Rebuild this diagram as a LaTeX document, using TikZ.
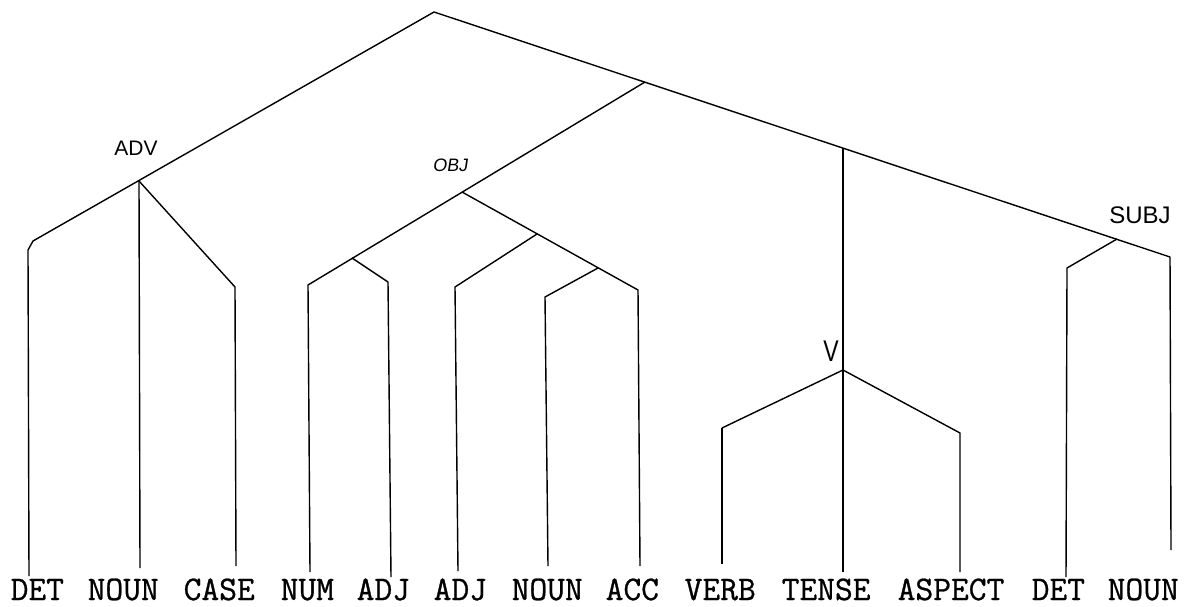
\documentclass[tikz,border=0pt]{standalone}
\usepackage{fontspec}
\newfontfamily\typewriter[FakeBold=0.8]{Latin Modern Mono}
\newfontfamily\hand{Liberation Sans}
\begin{document}
\begin{tikzpicture}[x=1pt,y=-1pt,line width=1.4pt,line join=round,
  word/.style={anchor=base west,inner sep=0pt,text depth=0pt,font=\typewriter\fontsize{34.5}{34.5}\selectfont},
  cat/.style={inner sep=0pt}]
\useasboundingbox (0,0) rectangle (1190,607);
% internal junctions
\coordinate (root) at (434,12);
\coordinate (adv) at (139,181);
\coordinate (vp) at (645,82);
\coordinate (obj) at (462,192);
\coordinate (numadj) at (352,258);
\coordinate (adjn) at (537,234);
\coordinate (nacc) at (598,268);
\coordinate (tns) at (843,148);
\coordinate (v) at (843,370);
\coordinate (subj) at (1117,239);
% leaf bends
\coordinate (b1a) at (33,241); \coordinate (b1) at (28,250);
\coordinate (b3) at (235,287);
\coordinate (b4) at (308,285);
\coordinate (b5) at (388,282);
\coordinate (b6) at (455,287);
\coordinate (b7) at (545,297);
\coordinate (b8) at (638,290);
\coordinate (b9) at (722,428);
\coordinate (b11) at (960,433);
\coordinate (b12) at (1067,268);
\coordinate (b13) at (1170,257);
% leaf bottoms
\coordinate (e1) at (29,576);
\coordinate (e2) at (140,568);
\coordinate (e3) at (236,566);
\coordinate (e4) at (310,572);
\coordinate (e5) at (391,577);
\coordinate (e6) at (458,571);
\coordinate (e7) at (548,566);
\coordinate (e8) at (640,566);
\coordinate (e9) at (722,564);
\coordinate (e10) at (843,572);
\coordinate (e11) at (960,572);
\coordinate (e12) at (1066,577);
\coordinate (e13) at (1171,550);
% words
\node[word] (w1) at (10,600) {DET};
\node[word] (w2) at (87,600) {NOUN};
\node[word] (w3) at (183,600) {CASE};
\node[word] (w4) at (280,600) {NUM};
\node[word] (w5) at (356,600) {ADJ};
\node[word] (w6) at (433,600) {ADJ};
\node[word] (w7) at (511,600) {NOUN};
\node[word] (w8) at (605,600) {ACC};
\node[word] (w9) at (684,600) {VERB};
\node[word] (w10) at (781,600) {TENSE};
\node[word] (w11) at (897,600) {ASPECT};
\node[word] (w12) at (1031,600) {DET};
\node[word] (w13) at (1107,600) {NOUN};
% category labels
\node[cat,font=\hand\fontsize{21}{21}\selectfont] (ladv) at (136,148) {ADV};
\node[cat,font=\hand\fontsize{18}{18}\selectfont,xslant=0.15] (lobj) at (451,165) {OBJ};
\node[cat,font=\hand\fontsize{23}{23}\selectfont,yscale=1.3] (lv) at (831,351) {V};
\node[cat,font=\hand\fontsize{24}{24}\selectfont] (lsubj) at (1140,215) {SUBJ};
% tree
\draw (b1) -- (b1a) -- (root) -- (b13) -- (e13);
\draw (b1) -- (e1);
\draw (adv) -- (e2);
\draw (adv) -- (b3) -- (e3);
\draw (vp) -- (b4) -- (e4);
\draw (numadj) -- (b5) -- (e5);
\draw (obj) -- (b8) -- (e8);
\draw (adjn) -- (b6) -- (e6);
\draw (nacc) -- (b7) -- (e7);
\draw (tns) -- (e10);
\draw (b9) -- (v) -- (b11) -- (e11);
\draw (b9) -- (e9);
\draw (subj) -- (b12) -- (e12);
\end{tikzpicture}
\end{document}
